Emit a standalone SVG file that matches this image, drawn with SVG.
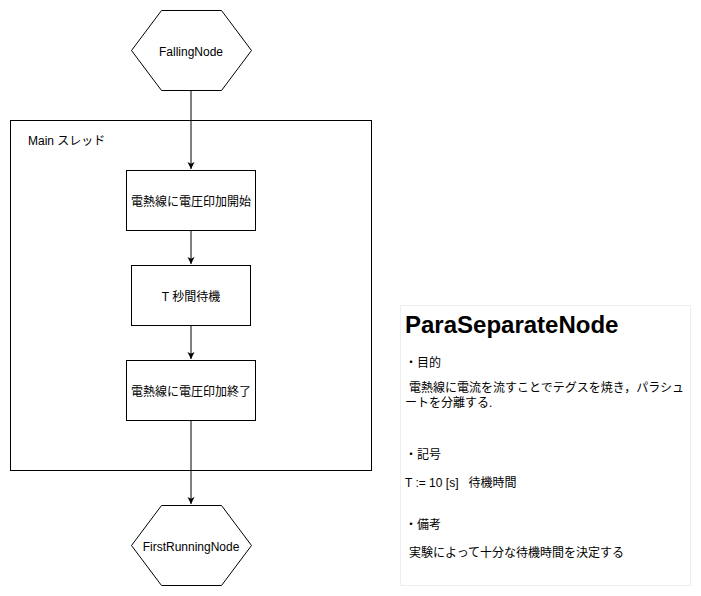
<svg xmlns="http://www.w3.org/2000/svg" width="701" height="596" viewBox="0 0 701 596">
<style>
text{font-family:"Liberation Sans","Noto Sans CJK JP",sans-serif;font-size:12px;fill:#000}
.c{text-anchor:middle;dominant-baseline:central}
.l{dominant-baseline:central}
.s{fill:#fff;stroke:#000;stroke-width:1}
.e{stroke:#000;stroke-width:1;fill:none}
</style>
<defs>
<marker id="a" markerWidth="8" markerHeight="8" refX="7" refY="4" orient="auto" markerUnits="userSpaceOnUse">
<path d="M0,0.5 L7,4 L0,7.5 L1.8,4 Z" fill="#000"/>
</marker>
</defs>
<rect width="701" height="596" fill="#fff"/>
<g id="main-thread">
<rect class="s" x="10.5" y="120.5" width="361" height="350"/>
<text class="l" x="28" y="141">Main スレッド</text>
</g>
<g id="connectors">
<line class="e" x1="191" y1="90" x2="191" y2="169" marker-end="url(#a)"/>
<line class="e" x1="191" y1="230" x2="191" y2="264" marker-end="url(#a)"/>
<line class="e" x1="191" y1="325" x2="191" y2="359" marker-end="url(#a)"/>
<line class="e" x1="191" y1="420" x2="191" y2="504" marker-end="url(#a)"/>
</g>
<g id="falling-node">
<polygon class="s" points="161.5,10.5 221.5,10.5 251.5,50.5 221.5,90.5 161.5,90.5 131.5,50.5"/>
<text class="c" x="191" y="51.5">FallingNode</text>
</g>
<g id="start-heat">
<rect class="s" x="126.5" y="170.5" width="129" height="60"/>
<text class="c" x="191" y="201.5">電熱線に電圧印加開始</text>
</g>
<g id="wait">
<rect class="s" x="131.5" y="265.5" width="119" height="60"/>
<text class="c" x="191" y="296.5">T 秒間待機</text>
</g>
<g id="end-heat">
<rect class="s" x="126.5" y="360.5" width="129" height="60"/>
<text class="c" x="191" y="391.5">電熱線に電圧印加終了</text>
</g>
<g id="first-running-node">
<polygon class="s" points="161.5,505.5 221.5,505.5 251.5,545.5 221.5,585.5 161.5,585.5 131.5,545.5"/>
<text class="c" x="191" y="546.5">FirstRunningNode</text>
</g>
<g id="note">
<rect x="400.5" y="305.5" width="290" height="280" fill="#fff" stroke="#eeeeee"/>
<text x="405" y="333" style="font-size:24px;font-weight:bold">ParaSeparateNode</text>
<text class="l" x="405" y="362.5">・目的</text>
<text class="l" x="409" y="387.5">電熱線に電流を流すことでテグスを焼き，パラシュ</text>
<text class="l" x="405" y="402.5">ートを分離する.</text>
<text class="l" x="405" y="454.5">・記号</text>
<text class="l" x="405" y="482.5" xml:space="preserve">T := 10 [s]   待機時間</text>
<text class="l" x="405" y="524.5">・備考</text>
<text class="l" x="409" y="552.5">実験によって十分な待機時間を決定する</text>
</g>
</svg>
